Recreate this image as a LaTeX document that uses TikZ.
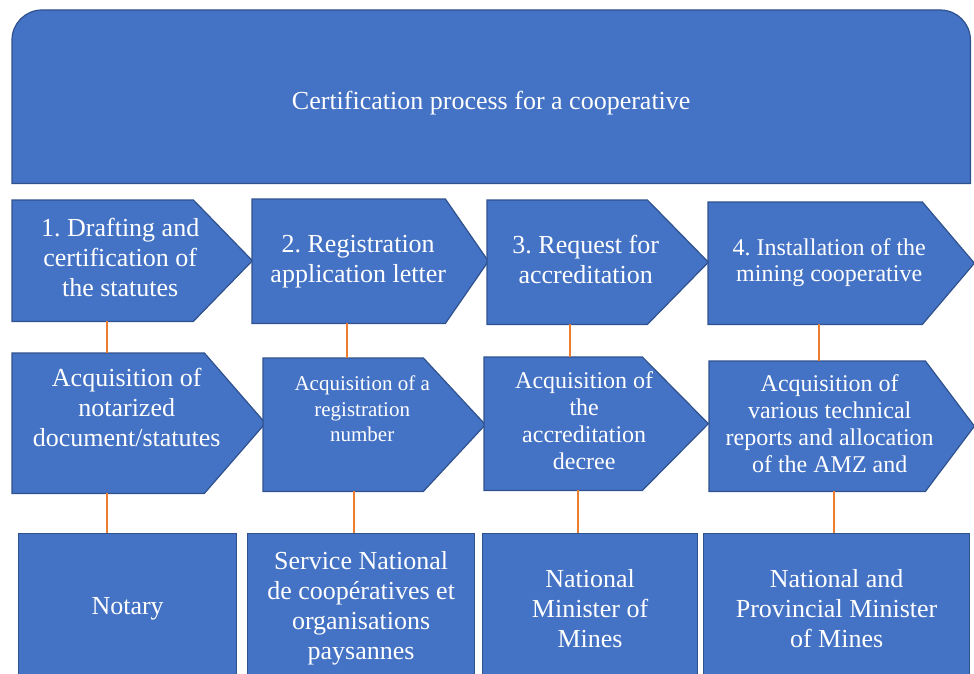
\documentclass[tikz,border=0pt]{standalone}
\usepackage{fontspec}
\setmainfont{Liberation Serif}
\usetikzlibrary{backgrounds}
\frenchspacing

\definecolor{stepblue}{HTML}{4472C4}
\definecolor{edgeblue}{HTML}{2F528F}
\definecolor{linkorange}{HTML}{ED7D31}

\newcommand{\SA}{%
  \begin{tabular}{@{}c@{\hspace{24pt}}}%
    1. Drafting and\\
    certification of\\
    the statutes
  \end{tabular}%
}
\newcommand{\SB}{%
  \begin{tabular}{@{}c@{\hspace{24pt}}}%
    2. Registration\\
    application letter
  \end{tabular}%
}
\newcommand{\SC}{%
  \begin{tabular}{@{}c@{\hspace{24pt}}}%
    3. Request for\\
    accreditation
  \end{tabular}%
}
\newcommand{\SD}{%
  \begin{tabular}{@{}c@{\hspace{24pt}}}%
    4. Installation of the\\
    mining cooperative
  \end{tabular}%
}
\newcommand{\RA}{%
  \begin{tabular}{@{}c@{\hspace{24pt}}}%
    Acquisition of\\
    notarized\\
    document/statutes\\[26pt]
  \end{tabular}%
}
\newcommand{\RB}{%
  \begin{tabular}{@{}c@{\hspace{24pt}}}%
    Acquisition of a\\
    registration\\
    number\\[27pt]
  \end{tabular}%
}
\newcommand{\RC}{%
  \begin{tabular}{@{}c@{\hspace{24pt}}}%
    Acquisition of\\
    the\\
    accreditation\\
    decree
  \end{tabular}%
}
\newcommand{\RD}{%
  \begin{tabular}{@{}c@{\hspace{24pt}}}%
    Acquisition of\\
    various technical\\
    reports and allocation\\
    of the AMZ and
  \end{tabular}%
}

\begin{document}
\begin{tikzpicture}[
    x=1pt, y=-1pt,
    stage/.style={anchor=north west, inner sep=0pt, text=white,
      font=\fontsize{26}{30}\selectfont},
    chevron/.style={fill=stepblue, draw=edgeblue, line width=1.2pt},
    source/.style={stage, chevron, align=center, minimum height=150pt},
    link/.style={draw=linkorange, line width=2pt}
]
\useasboundingbox (0,0) rectangle (974,674);
\clip (0,0) rectangle (974,674);

\node[stage, minimum width=958pt, minimum height=173pt,
  text height=26pt, text depth=0pt] (title) at (12,10)
  {Certification process for a cooperative};

% steps
\node[stage, minimum width=240pt, minimum height=121pt] (draft) at (12,200) {\SA};
\node[stage, minimum width=236pt, minimum height=124pt] (regist) at (252,199) {\SB};
\node[stage, minimum width=221pt, minimum height=124pt] (request) at (487,200) {\SC};
\node[stage, minimum width=266pt, minimum height=122pt,
  font=\fontsize{24}{26}\selectfont] (install) at (708,202) {\SD};

% results
\node[stage, minimum width=253pt, minimum height=140pt] (notarized) at (12,353) {\RA};
\node[stage, minimum width=222pt, minimum height=133pt,
  font=\fontsize{21}{25.5}\selectfont] (regnum) at (263,358) {\RB};
\node[stage, minimum width=224pt, minimum height=133pt,
  font=\fontsize{24}{27}\selectfont] (decree) at (484,357) {\RC};
\node[stage, minimum width=265pt, minimum height=130pt,
  font=\fontsize{24}{27}\selectfont] (reports) at (709,361) {\RD};

% offices
\node[source, minimum width=218pt] (notary) at (18,533) {Notary};
\node[source, minimum width=227pt] (service) at (247,533)
  {Service National\\de coopératives et\\organisations\\paysannes};
\node[source, minimum width=215pt] (minister) at (482,533)
  {National\\Minister of\\Mines};
\node[source, minimum width=266pt] (provincial) at (703,533)
  {National and\\Provincial Minister\\of Mines};

\begin{pgfonlayer}{background}
\filldraw[chevron] (title.south west) -- ([yshift=-30pt]title.north west)
  arc[start angle=180, end angle=90, radius=30pt]
  -- ([xshift=-30pt]title.north east)
  arc[start angle=90, end angle=0, radius=30pt]
  -- (title.south east) -- cycle;
\foreach \n/\t in {draft/59, regist/43, request/61, install/52,
    notarized/61, regnum/62, decree/66, reports/49}
  \filldraw[chevron] (\n.north west) -- ([xshift=-\t]\n.north east)
    -- (\n.east) -- ([xshift=-\t]\n.south east) -- (\n.south west) -- cycle;
\end{pgfonlayer}

\foreach \a/\b/\d in {draft/notarized/-25, regist/regnum/-23,
    request/decree/-27.5, install/reports/-22,
    notarized/notary/-31.5, regnum/service/-20,
    decree/minister/-18, reports/provincial/-7.5}
  \draw[link] ([xshift=\d]\a.south) -- ([xshift=\d]\a.south |- \b.north);
\end{tikzpicture}
\end{document}
